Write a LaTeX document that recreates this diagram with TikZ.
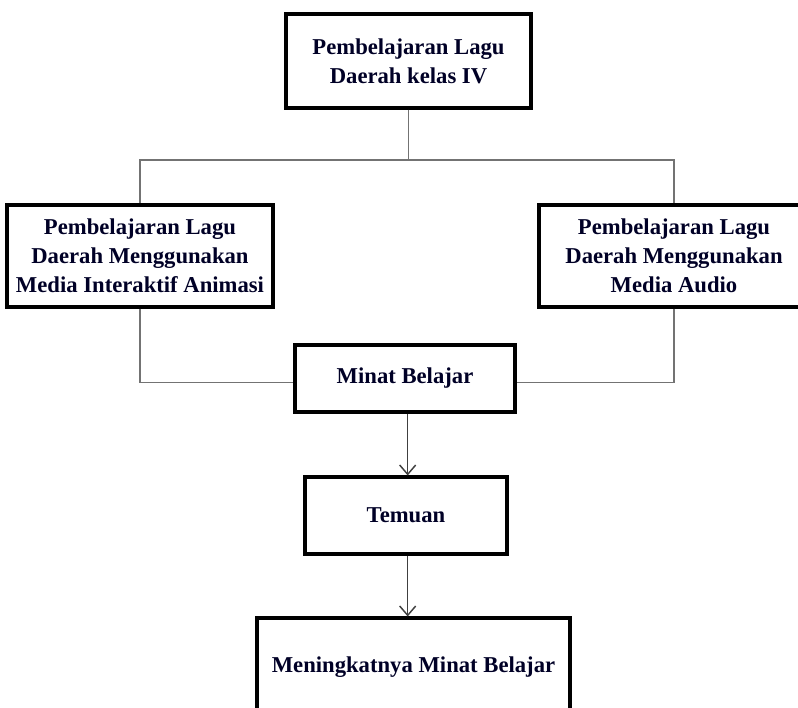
\documentclass[tikz,border=0pt]{standalone}
\usepackage{fontspec}
\setmainfont{Liberation Serif}
\usetikzlibrary{arrows.meta}
\begin{document}
\begin{tikzpicture}[x=0.75pt,y=-0.75pt,
    box/.style={draw=black,line width=2.3pt,align=center,inner sep=0pt,
      font=\fontsize{17}{21.75}\selectfont\bfseries,text=black!85!blue},
    link/.style={draw=black!55,line width=0.8pt},
    flow/.style={draw=black!75,line width=1.1pt,-{Straight Barb[length=7pt,width=12pt,line width=1.1pt]}}]
        \useasboundingbox (0,0) rectangle (798,707);
        \begin{scope}
        \clip (0,0) rectangle (798,707);

        \node [box,minimum width=183.75pt,minimum height=70.5pt] (top) at (408.5,61)
          {Pembelajaran Lagu\\Daerah kelas IV};
        \node [box,minimum width=199.5pt,minimum height=76.5pt] (left) at (140,256)
          {Pembelajaran Lagu\\Daerah Menggunakan\\Media Interaktif Animasi};
        \node [box,minimum width=202.5pt,minimum height=76.5pt] (right) at (674,256)
          {Pembelajaran Lagu\\Daerah Menggunakan\\Media Audio};
        \node [box,minimum width=165pt,minimum height=50.25pt] (minat) at (405,378.5)
          {Minat Belajar};
        \node [box,minimum width=151.5pt,minimum height=57.75pt] (temuan) at (406,515.5)
          {Temuan};
        \node [box,minimum width=234.75pt,minimum height=73.5pt] (hasil) at (413.5,667)
          {Meningkatnya Minat Belajar};

        \coordinate (bus) at (408.5,160);
        \draw [link] (top.south) -- (bus);
        \draw [link] (bus) -| (left.north);
        \draw [link] (bus) -| (right.north);
        \draw [link] (left.south) |- ([yshift=-3pt]minat.west);
        \draw [link] (right.south) |- ([yshift=-3pt]minat.east);

        \draw [flow] ([xshift=2pt]minat.south) -- ([xshift=2pt]minat.south |- temuan.north);
        \draw [flow] ([xshift=2pt]minat.south |- temuan.south) -- ([xshift=2pt]minat.south |- hasil.north);
        \end{scope}
      \end{tikzpicture}
\end{document}
